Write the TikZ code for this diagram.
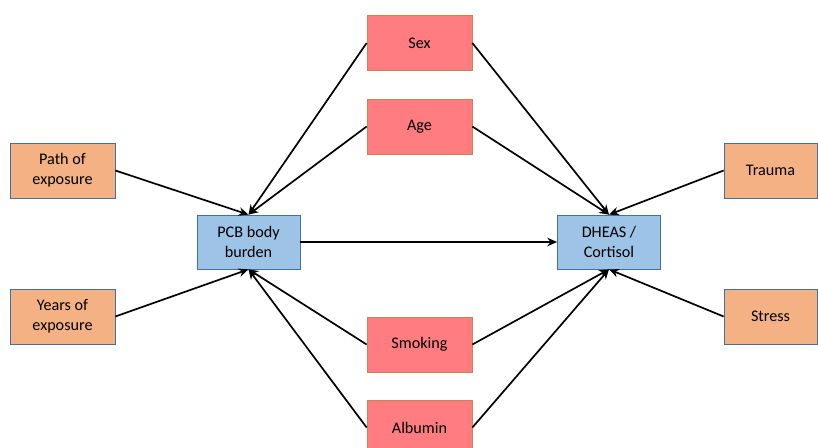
\documentclass[tikz,border=0pt]{standalone}
\usepackage{fontspec}
\setmainfont{Carlito}
\usetikzlibrary{arrows.meta}
\definecolor{redfill}{RGB}{255,124,128}
\definecolor{redline}{RGB}{205,130,85}
\definecolor{bluefill}{RGB}{157,195,230}
\definecolor{blueline}{RGB}{65,113,156}
\definecolor{orangefill}{RGB}{244,177,131}
\tikzset{
  box/.style={draw, line width=0.5pt, align=center, font=\fontsize{11.5}{14}\selectfont,
    minimum width=2.625cm, minimum height=1.375cm, inner sep=2pt},
  factor/.style={box, fill=redfill, draw=redline},
  main/.style={box, fill=bluefill, draw=blueline, minimum width=2.575cm, minimum height=1.35cm},
  other/.style={box, fill=orangefill, draw=blueline},
  link/.style={-{Stealth[length=7pt,width=6pt]}, line width=1.2pt}
}
\begin{document}
\begin{tikzpicture}[x=0.025cm,y=-0.025cm]
  \useasboundingbox[fill=white] (0,0) rectangle (818,448);

  \node[main] (P) at (248.5,242) {PCB body\\burden};
  \node[main] (D) at (609,242) {DHEAS /\\Cortisol};

  \node[factor] (S) at (419.5,43) {Sex};
  \node[factor] (A) at (419.5,126.5) {Age};
  \node[factor] (K) at (419.5,344.5) {Smoking};
  \node[factor] (B) at (419.5,427.5) {Albumin};

  \node[other] (E) at (62.5,170.5) {Path of\\exposure};
  \node[other] (Y) at (62.5,316.5) {Years of\\exposure};
  \node[other, minimum width=2.325cm] (T) at (770.5,170.5) {Trauma};
  \node[other, minimum width=2.325cm] (R) at (770.5,316.5) {Stress};

  \draw[link] (P) -- (D);

  \draw[link] (E.east) -- (P.north);
  \draw[link] (S.west) -- (P.north);
  \draw[link] (A.west) -- (P.north);
  \draw[link] (Y.east) -- (P.south);
  \draw[link] (K.west) -- (P.south);
  \draw[link] (B.west) -- (P.south);

  \draw[link] (S.east) -- (D.north);
  \draw[link] (A.east) -- (D.north);
  \draw[link] (T.west) -- (D.north);
  \draw[link] (K.east) -- (D.south);
  \draw[link] (B.east) -- (D.south);
  \draw[link] (R.west) -- (D.south);
\end{tikzpicture}
\end{document}
